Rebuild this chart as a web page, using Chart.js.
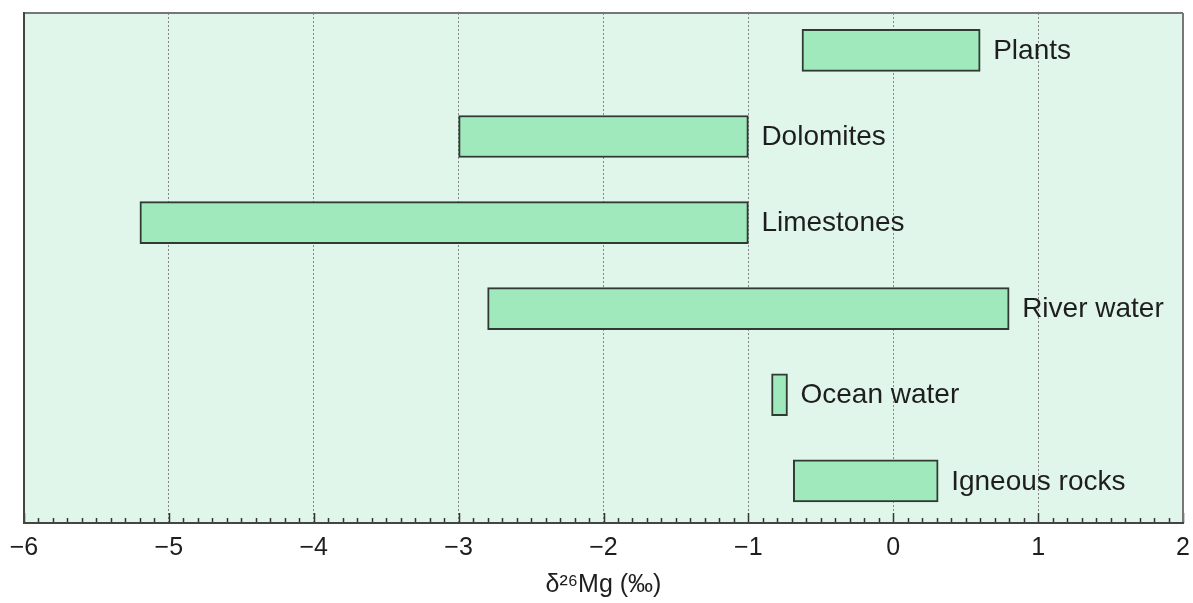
<!DOCTYPE html>
<html>
<head>
<meta charset="utf-8">
<script src="https://cdn.jsdelivr.net/npm/chart.js@4.4.1/dist/chart.umd.min.js"></script>
<style>
  html, body { margin: 0; padding: 0; background: #ffffff; }
  #wrap { width: 1193px; height: 603px; position: relative; }
</style>
</head>
<body>
<div id="wrap"><canvas id="c" width="1193" height="603"></canvas></div>
<script>
// Data
const categories = ['Plants', 'Dolomites', 'Limestones', 'River water', 'Ocean water', 'Igneous rocks'];
const rangeLow  = [-0.63, -3.0, -5.2, -2.8, -0.84, -0.69];
const rangeHigh = [ 0.60, -1.0, -1.0,  0.8, -0.73,  0.31];
const xTickValues = [-6, -5, -4, -3, -2, -1, 0, 1, 2];
const axisTitle = 'δ²⁶Mg (‰)';

const FONT = '"Liberation Sans", Arial, Helvetica, sans-serif';

const barData = categories.map((c, i) => ({ x: [rangeLow[i], rangeHigh[i]], y: i }));

const framePlugin = {
  id: 'frame',
  beforeDraw(chart) {
    const { ctx, chartArea: a } = chart;
    ctx.save();
    ctx.fillStyle = '#e0f6ea';
    ctx.fillRect(a.left, a.top, a.right - a.left, a.bottom - a.top);
    ctx.restore();
  },
  afterDatasetsDraw(chart) {
    const { ctx, chartArea: a } = chart;
    const xs = chart.scales.x;
    ctx.save();
    // minor and major ticks, pointing into the plot from the bottom axis
    ctx.strokeStyle = '#333333';
    ctx.lineWidth = 1.5;
    for (let k = -60; k <= 20; k++) {
      const v = k / 10;
      const px = Math.round(xs.getPixelForValue(v)) + 0.5;
      const len = (k % 10 === 0) ? 10 : 5;
      ctx.beginPath();
      ctx.moveTo(px, a.bottom);
      ctx.lineTo(px, a.bottom - len);
      ctx.stroke();
    }
    // frame
    ctx.strokeStyle = '#777777';
    ctx.lineWidth = 2;
    ctx.beginPath();
    ctx.moveTo(a.left, a.top);
    ctx.lineTo(a.right, a.top);
    ctx.moveTo(a.right, a.top);
    ctx.lineTo(a.right, a.bottom);
    ctx.stroke();
    ctx.strokeStyle = '#444444';
    ctx.beginPath();
    ctx.moveTo(a.left, a.top - 1);
    ctx.lineTo(a.left, a.bottom);
    ctx.lineTo(a.right + 1, a.bottom);
    ctx.stroke();
    // bar labels
    const meta = chart.getDatasetMeta(0);
    ctx.fillStyle = '#1e1e1e';
    ctx.font = '28px ' + FONT;
    ctx.textAlign = 'left';
    ctx.textBaseline = 'middle';
    meta.data.forEach((el, i) => {
      const right = Math.max(el.x, el.base);
      ctx.fillText(categories[i], right + 13, el.y + 1);
    });
    ctx.restore();
  }
};

new Chart(document.getElementById('c'), {
  type: 'bar',
  data: {
    datasets: [{
      data: barData,
      backgroundColor: '#a0e9bd',
      borderColor: '#2f3a33',
      borderWidth: 2,
      borderSkipped: false,
      barThickness: 42
    }]
  },
  options: {
    indexAxis: 'y',
    responsive: false,
    animation: false,
    events: [],
    layout: { padding: { left: 24, right: 10, top: 13, bottom: 0 } },
    plugins: {
      legend: { display: false },
      tooltip: { enabled: false },
      title: { display: false }
    },
    scales: {
      x: {
        type: 'linear',
        position: 'bottom',
        min: -6,
        max: 2,
        afterBuildTicks(scale) { scale.ticks = xTickValues.map(v => ({ value: v })); },
        afterFit(scale) { scale.height = 80; scale.paddingLeft = 0; scale.paddingRight = 0; },
        grid: {
          color: '#888888',
          lineWidth: 1,
          drawTicks: false,
          drawOnChartArea: true
        },
        border: { display: false, dash: [2, 2] },
        ticks: {
          color: '#1e1e1e',
          font: { family: FONT, size: 25 },
          padding: 10,
          maxRotation: 0,
          callback: (v) => (v < 0 ? '\u2212' + Math.abs(v) : String(v))
        },
        title: {
          display: true,
          text: axisTitle,
          color: '#1e1e1e',
          font: { family: FONT, size: 25 },
          padding: { top: 0, bottom: 3 }
        }
      },
      y: {
        type: 'linear',
        reverse: true,
        offset: false,
        min: -0.435,
        max: 5.49,
        display: false,
        grid: { display: false }
      }
    }
  },
  plugins: [framePlugin]
});
</script>
</body>
</html>
